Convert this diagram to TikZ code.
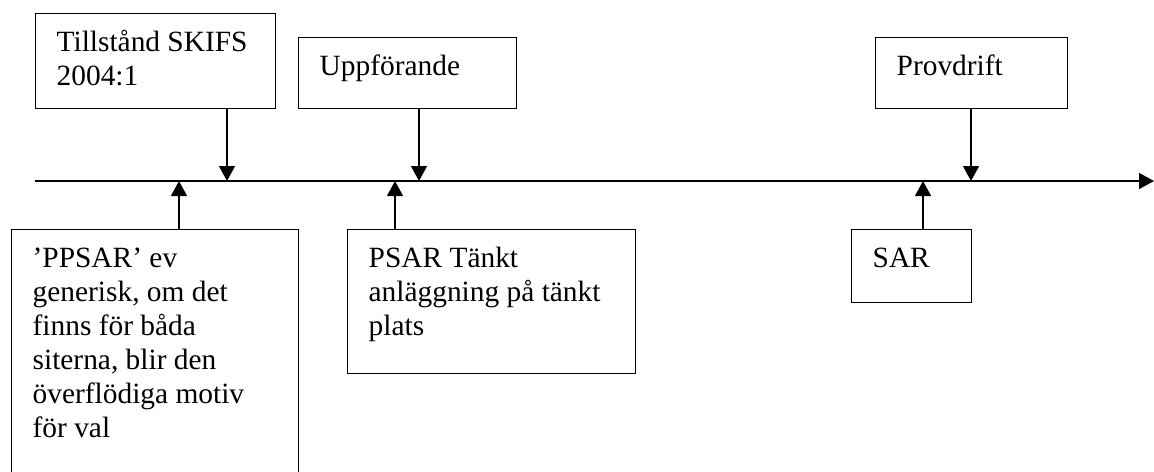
\documentclass[tikz,border=0pt]{standalone}
\usepackage{fontspec}
\setmainfont{Liberation Serif}
\usepackage{tikz}
\usetikzlibrary{arrows.meta}

% text inside a box, first line about 37px below the top edge
\newcommand{\boxtxt}[3]{\begin{minipage}[t][#1][t]{#2}\raggedright\rule{0pt}{19pt}#3\end{minipage}}

\begin{document}
\begin{tikzpicture}[x=0.5pt, y=-0.5pt,
        line width=0.65pt,
        tip/.style={-{Triangle[width=8pt,length=7.5pt]}},
        fas/.style={draw, rectangle, anchor=north west, inner xsep=10.5pt, inner ysep=0pt,
            font=\fontsize{14.7pt}{17pt}\selectfont}]
        \useasboundingbox (0, 0) rectangle (1154, 471);

        % tidslinjen
        \coordinate (start) at (35, 181);
        \coordinate (slut) at (1154, 181);
        \draw[tip] (start) -- (slut);

        % ovanfor linjen
        \node[fas] (tillstand) at (35, 13) {\boxtxt{47.5pt}{99pt}{Tillstånd SKIFS\\2004:1}};
        \node[fas] (uppforande) at (298, 37) {\boxtxt{35.5pt}{88pt}{Uppförande}};
        \node[fas] (provdrift) at (875, 37) {\boxtxt{35.5pt}{75pt}{Provdrift}};

        % under linjen
        \node[fas] (ppsar) at (11, 229) {\boxtxt{130pt}{122.5pt}{’PPSAR’ ev\\generisk, om det\\finns för båda\\siterna, blir den\\överflödiga motiv\\för val}};
        \node[fas] (psar) at (347, 229) {\boxtxt{72pt}{123pt}{PSAR Tänkt\\anläggning på tänkt\\plats}};
        \node[fas] (sar) at (851, 229) {\boxtxt{36.5pt}{39pt}{SAR}};

        % punkter pa linjen
        \coordinate (p1) at (227, 181);
        \coordinate (p2) at (179, 181);
        \coordinate (p3) at (419, 181);
        \coordinate (p4) at (395, 181);
        \coordinate (p5) at (971, 181);
        \coordinate (p6) at (923, 181);

        \draw[tip] (p1 |- tillstand.south) -- (p1);
        \draw[tip] (p2 |- ppsar.north) -- (p2);
        \draw[tip] (p3 |- uppforande.south) -- (p3);
        \draw[tip] (p4 |- psar.north) -- (p4);
        \draw[tip] (p5 |- provdrift.south) -- (p5);
        \draw[tip] (p6 |- sar.north) -- (p6);
    \end{tikzpicture}
\end{document}
